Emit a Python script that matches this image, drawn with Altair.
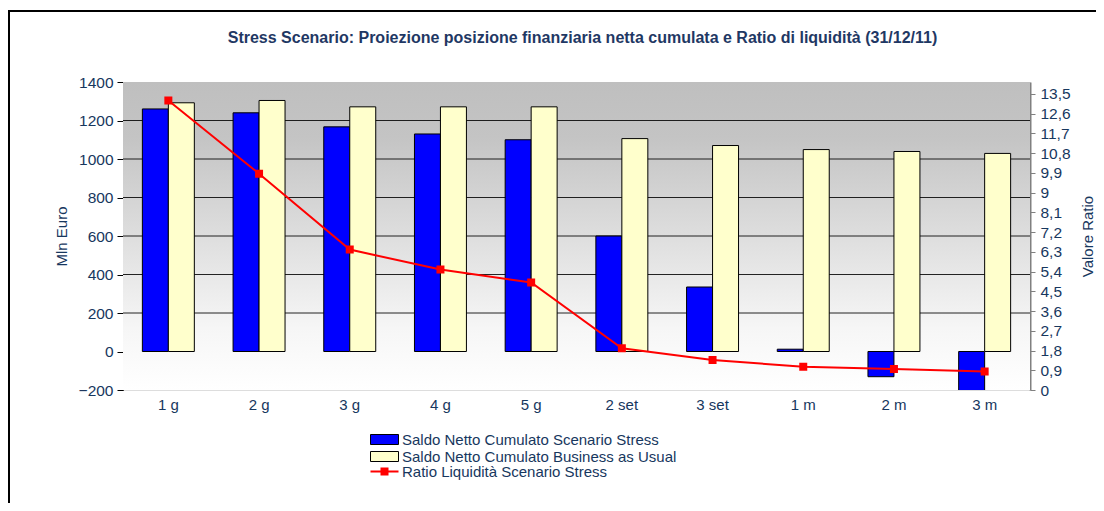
import altair as alt
import pandas as pd

# ---------------- data ----------------
categories = ["1 g", "2 g", "3 g", "4 g", "5 g", "2 set", "3 set", "1 m", "2 m", "3 m"]
stress_values = [1260, 1240, 1167, 1130, 1100, 600, 335, 12, -131, -215]
bau_values = [1292, 1304, 1271, 1271, 1271, 1106, 1070, 1049, 1039, 1029]
ratio_values = [13.2, 9.86, 6.4, 5.49, 4.9, 1.9, 1.37, 1.06, 0.96, 0.84]

left_ticks = [-200, 0, 200, 400, 600, 800, 1000, 1200, 1400]
grid_values = [200, 400, 600, 800, 1000, 1200]
right_ticks = [0, 0.9, 1.8, 2.7, 3.6, 4.5, 5.4, 6.3, 7.2, 8.1, 9, 9.9, 10.8, 11.7, 12.6, 13.5]

S1 = "Saldo Netto Cumulato Scenario Stress"
S2 = "Saldo Netto Cumulato Business as Usual"
S3 = "Ratio Liquidità Scenario Stress"
TITLE = "Stress Scenario: Proiezione posizione finanziaria netta cumulata e Ratio di liquidità (31/12/11)"

bars_df = pd.DataFrame({
    "cat": categories * 2,
    "series": [S1] * len(categories) + [S2] * len(categories),
    "value": stress_values + bau_values,
})
ratio_df = pd.DataFrame({"cat": categories, "ratio": ratio_values, "series": [S3] * len(categories)})
grid_df = pd.DataFrame({"v": grid_values})
one = pd.DataFrame({"a": [0]})

# ---------------- style ----------------
W, H = 907, 308
NAVY = "#17375E"
FONT = "Liberation Sans"
FS = 15

xscale = alt.Scale(domain=categories, paddingInner=0.427, paddingOuter=0.2135)
yleft = alt.Scale(domain=[-200, 1400], nice=False)
yright = alt.Scale(domain=[0, 14.04], nice=False, zero=False)

border = alt.Chart(one).mark_rect(
    fill="transparent", stroke="#000000", strokeWidth=2, clip=False
).encode(
    x=alt.value(9 - 123), x2=alt.value(1300), y=alt.value(11 - 82), y2=alt.value(700)
)

bg = alt.Chart(one).mark_rect(
    fill=alt.Gradient(
        gradient="linear", x1=0, x2=0, y1=0, y2=1,
        stops=[alt.GradientStop(offset=0, color="#BFBFBF"),
               alt.GradientStop(offset=0.18, color="#C4C4C4"),
               alt.GradientStop(offset=0.8, color="#F6F6F6"),
               alt.GradientStop(offset=1, color="#FFFFFF")],
    )
).encode(x=alt.value(0), x2=alt.value(W), y=alt.value(0), y2=alt.value(H))

grid = alt.Chart(grid_df).mark_rule(color="#000000", strokeWidth=1, opacity=0.85).encode(
    y=alt.Y("v:Q", scale=yleft, axis=None)
)

bars = alt.Chart(bars_df).mark_bar(stroke="#000000", strokeWidth=1, clip=True).encode(
    x=alt.X("cat:N", scale=xscale, sort=categories,
            axis=alt.Axis(title=None, labelAngle=0, ticks=False, domain=False,
                          labelFontSize=FS, labelColor=NAVY, labelFont=FONT, labelPadding=7)),
    xOffset=alt.XOffset("series:N", sort=[S1, S2],
                        scale=alt.Scale(domain=[S1, S2], paddingInner=0, paddingOuter=0)),
    y=alt.Y("value:Q", scale=yleft, stack=None,
            axis=alt.Axis(values=left_ticks, format="d", grid=False, domainColor="#000000",
                          tickColor="#000000", tickSize=6, labelFontSize=FS + 0.5, labelColor=NAVY,
                          labelFont=FONT, labelPadding=4,
                          title="Mln Euro", titleFontSize=FS, titleFontWeight="normal", titleColor=NAVY,
                          titleFont=FONT, titlePadding=9)),
    fill=alt.Fill("series:N", scale=alt.Scale(domain=[S1, S2], range=["#0000FF", "#FFFFCC"]),
                  legend=alt.Legend(orient="none", legendX=254, legendY=350, title=None,
                                    symbolType="M-2.8,-1H2.8V1H-2.8Z", symbolSize=100,
                                    symbolStrokeColor="#000000", symbolStrokeWidth=1,
                                    labelFontSize=FS, labelColor=NAVY, labelFont=FONT,
                                    labelLimit=500, labelOffset=10, rowPadding=1)),
)

line = alt.Chart(ratio_df).mark_line(
    strokeWidth=2,
    point=alt.OverlayMarkDef(shape="square", size=36, filled=True, color="#FF0000"),
).encode(
    x=alt.X("cat:N", scale=xscale, sort=categories,
            axis=alt.Axis(title=None, labels=False, domain=True, domainColor="#000000",
                          ticks=True, tickColor="#000000", tickSize=5, tickBand="extent",
                          offset=-38.5, grid=False)),
    y=alt.Y("ratio:Q", scale=yright,
            axis=alt.Axis(orient="right", values=right_ticks,
                          labelExpr="replace(format(datum.value, '.1~f'), '.', ',')",
                          grid=False, domainColor="#808080", domainWidth=2, tickColor="#808080",
                          tickSize=5, labelFontSize=FS + 0.5, labelColor=NAVY, labelFont=FONT,
                          labelPadding=5, title="Valore Ratio", titleAngle=270,
                          titleFontSize=FS, titleFontWeight="normal", titleColor=NAVY,
                          titleFont=FONT, titlePadding=25)),
    stroke=alt.Stroke("series:N", scale=alt.Scale(domain=[S3], range=["#FF0000"]),
                      legend=alt.Legend(orient="none", legendX=254, legendY=382, title=None,
                                        symbolType="M-2.8,0H2.8M-0.6,-0.6H0.6V0.6H-0.6Z",
                                        symbolSize=100, symbolStrokeWidth=2,
                                        symbolStrokeColor="#FF0000", symbolFillColor="#FF0000",
                                        labelFontSize=FS, labelColor=NAVY, labelFont=FONT,
                                        labelLimit=500, labelOffset=10)),
)

chart = alt.layer(border, bg, grid, bars, line).resolve_scale(
    y="independent", fill="independent", stroke="independent"
).resolve_axis(x="independent").properties(
    width=W, height=H,
    padding={"left": 115, "top": 74, "right": 66, "bottom": 113},
    autosize=alt.AutoSizeParams(type="none"),
    title=alt.Title(TITLE, fontSize=16, font=FONT, fontWeight="bold", color="#1F3864",
                    anchor="middle", offset=-36, dx=6),
).configure_view(stroke="#D0D0D0", strokeWidth=1).configure(background="#FFFFFF")

chart.save("out.html", embed_options={"renderer": "svg", "actions": False})
